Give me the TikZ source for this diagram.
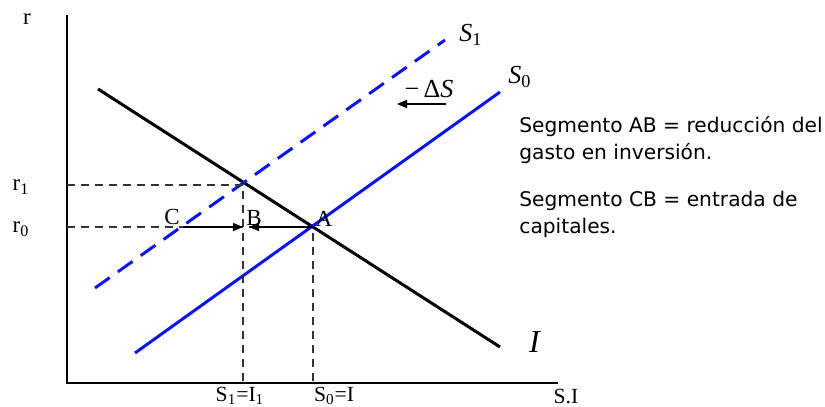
\documentclass[tikz,border=0pt]{standalone}
\usepackage{fontspec}
\setmainfont{Liberation Serif}
\newfontfamily\notefont{DejaVu Sans}
\usetikzlibrary{positioning, arrows.meta, calc}
\definecolor{supplyblue}{HTML}{0A14F0}
\definecolor{guidegray}{HTML}{333333}

\begin{document}
\begin{tikzpicture}[
    x=0.5pt, y=-0.5pt,
    >={Triangle[length=5pt, width=4pt]},
    font=\fontsize{11.5}{12}\selectfont,
    axis/.style={line width=1.2pt, color=black},
    invcurve/.style={line width=1.5pt, color=black},
    supply/.style={line width=1.5pt, color=supplyblue},
    guide/.style={dashed, line width=0.7pt, color=guidegray, dash pattern=on 4pt off 3pt},
    movearrow/.style={->, line width=0.8pt},
    ticklabel/.style={inner sep=1pt},
    axislabel/.style={inner sep=0pt, font=\fontsize{10.8}{11}\selectfont},
    curvelabel/.style={font=\fontsize{13}{14}\selectfont, inner sep=1pt},
    note/.style={font=\notefont\fontsize{10.1}{13.5}\selectfont, align=left, anchor=north west, inner sep=0pt},
]
\useasboundingbox (0,0) rectangle (825,407);

% Axes
\coordinate (origin) at (67, 383);
\coordinate (ytop) at (67, 15);
\coordinate (xend) at (558, 383);
\draw[axis] (ytop) -- (origin) -- (xend);
\node[ticklabel] (rlabel) at (27, 19) {r};
\node[axislabel] (silabel) at (566, 396) {S.I};

% Equilibrium points
\coordinate (A) at (313, 227);
\coordinate (B) at (243, 227);
\coordinate (E1) at (243, 185);
\coordinate (C) at (183, 227);

% Curves
\coordinate (I0) at (98, 89);
\coordinate (I1) at (500, 347);
\draw[invcurve] (I0) -- (I1);
\coordinate (S0a) at (135, 353);
\coordinate (S0b) at (500, 92);
\draw[supply] (S0a) -- (S0b);
\coordinate (S1a) at (95, 288);
\coordinate (S1b) at (445, 40);
\draw[supply, dashed, dash pattern=on 9pt off 5pt] (S1a) -- (S1b);

% Dashed guides
\draw[guide] (origin |- E1) -- (E1) -- (E1 |- origin);
\draw[guide] (origin |- A) -- (A) -- (A |- origin);

% Labels on the axes
\node[ticklabel] (r1label) at (21, 187) {r\textsubscript{1}};
\node[ticklabel] (r0label) at (21, 229) {r\textsubscript{0}};
\node[axislabel] (s1label) at (240, 396) {S\textsubscript{1}=I\textsubscript{1}};
\node[axislabel] (s0label) at (334, 396) {S\textsubscript{0}=I};

% Points and movements
\node[ticklabel] (clabel) at (172, 217) {C};
\node[ticklabel] (blabel) at (254, 218) {B};
\node[ticklabel] (alabel) at (324, 219) {A};
\draw[movearrow] (C) -- (B);
\draw[movearrow] (A) -- ($(B)+(6,0)$);

% Curve names
\node[curvelabel] (s1name) at (471, 35) {\textit{S}\textsubscript{1}};
\node[curvelabel] (s0name) at (520, 77) {\textit{S}\textsubscript{0}};
\node[curvelabel, font=\fontsize{16}{17}\selectfont] (iname) at (535, 342) {\textit{I}};
\node[curvelabel] (dslabel) at (429, 89) {−\,Δ\textit{S}};
\coordinate (dsfrom) at (446, 104);
\coordinate (dsto) at (397, 104);
\draw[movearrow] (dsfrom) -- (dsto);

% Notes
\node[note] (noteab) at (519, 116) {Segmento AB = reducción del\\gasto en inversión.};
\node[note] (notecb) at (519, 191) {Segmento CB = entrada de\\capitales.};

\end{tikzpicture}
\end{document}
